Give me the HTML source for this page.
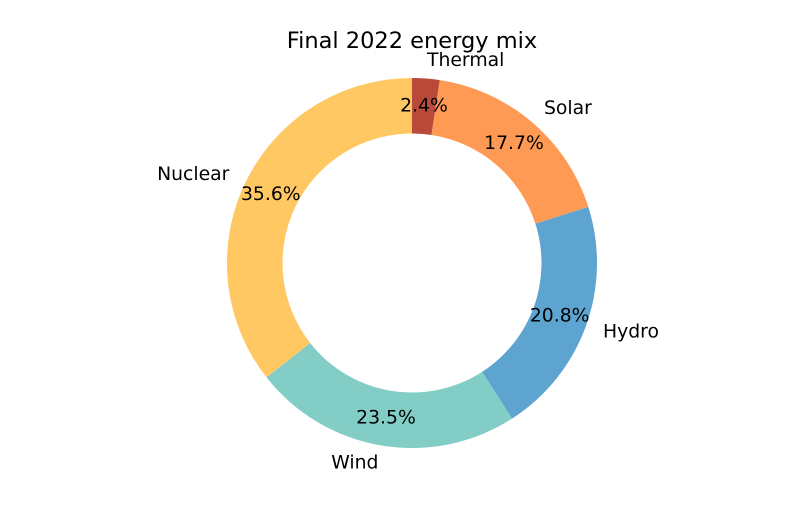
<!DOCTYPE html>
<html><head><style>body{margin:0;background:#fff}svg{display:block}</style></head>
<body>
<svg width="800" height="520" viewBox="0 0 800 520" font-family="DejaVu Sans, Liberation Sans, sans-serif">
<rect width="800" height="520" fill="#fff"/>
<text x="412" y="48" font-size="22.5" text-anchor="middle">Final 2022 energy mix</text>
<g>
<path d="M412,78 A185,185 0 0 1 439.8,80.1 L431.5,135 A129.5,129.5 0 0 0 412,133.5 Z" fill="#b94a3a"/>
<path d="M439.8,80.1 A185,185 0 0 1 588.3,206.9 L535.4,223.8 A129.5,129.5 0 0 0 431.5,135 Z" fill="#ff9a55"/>
<path d="M588.3,206.9 A185,185 0 0 1 512.1,418.6 L482.1,371.9 A129.5,129.5 0 0 0 535.4,223.8 Z" fill="#5ea4d0"/>
<path d="M512.1,418.6 A185,185 0 0 1 266.5,377.3 L310.2,343 A129.5,129.5 0 0 0 482.1,371.9 Z" fill="#82cdc6"/>
<path d="M266.5,377.3 A185,185 0 0 1 412,78 L412,133.5 A129.5,129.5 0 0 0 310.2,343 Z" fill="#ffc862"/>
</g>
<g font-size="18.8" dominant-baseline="central">
<text x="424" y="106" text-anchor="middle">2.4%</text>
<text x="514" y="143.6" text-anchor="middle">17.7%</text>
<text x="559.7" y="316.2" text-anchor="middle">20.8%</text>
<text x="386" y="417.8" text-anchor="middle">23.5%</text>
<text x="270.8" y="194.4" text-anchor="middle">35.6%</text>
<text x="427" y="60.6">Thermal</text>
<text x="544" y="108.6">Solar</text>
<text x="603" y="331.8">Hydro</text>
<text x="378.4" y="463.2" text-anchor="end">Wind</text>
<text x="229.4" y="174.3" text-anchor="end">Nuclear</text>
</g>
</svg>
</body></html>
